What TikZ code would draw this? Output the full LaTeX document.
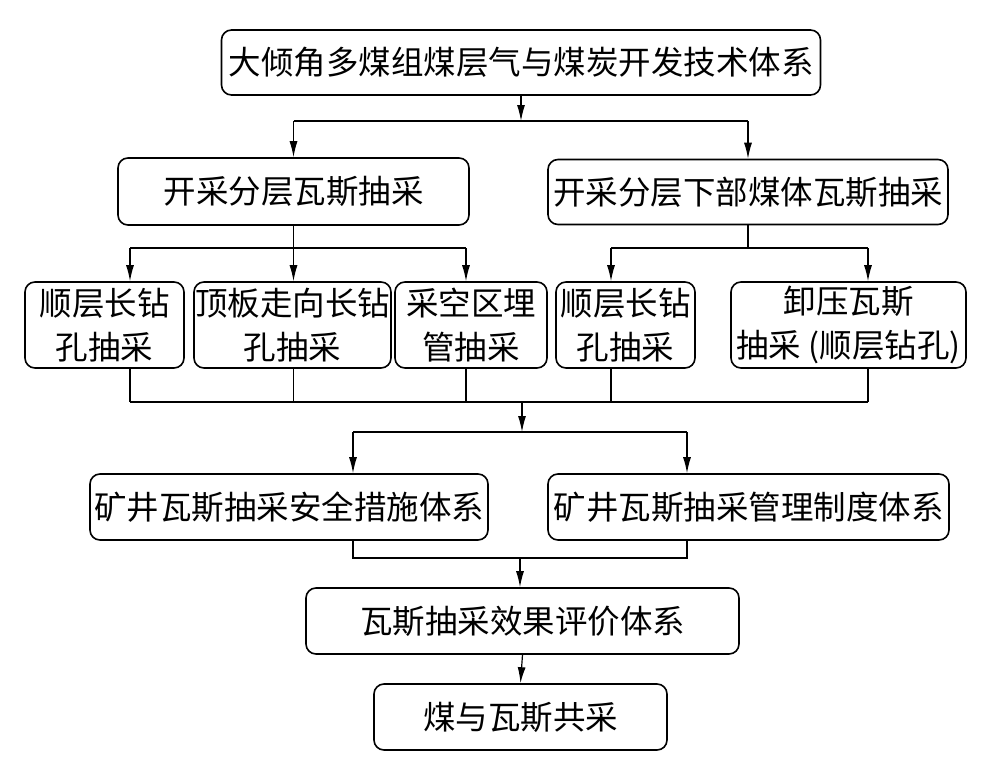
\documentclass[tikz,border=0pt]{standalone}
\usepackage{fontspec}
\setmainfont{Noto Sans CJK SC}
\usetikzlibrary{arrows.meta}

\begin{document}
\begin{tikzpicture}[x=1pt,y=-1pt,
  box/.style={draw,line width=1.6pt,rounded corners=10pt,inner sep=0pt,align=center,font=\fontsize{32.5pt}{44pt}\selectfont},
  arr/.style={-{Latex[length=16pt,width=8pt]},line width=1.2pt},
  ln/.style={line width=1.2pt}]

\useasboundingbox (0,0) rectangle (999,768);

\node [box,minimum width=599pt,minimum height=65pt] (sys) at (521,62.5) {大倾角多煤组煤层气与煤炭开发技术体系};

\node [box,minimum width=351pt,minimum height=67pt] (lay) at (293.5,191.5) {开采分层瓦斯抽采};
\node [box,minimum width=400pt,minimum height=65pt] (low) at (748,192) {开采分层下部煤体瓦斯抽采};

\node [box,minimum width=159pt,minimum height=86pt] (c1) at (104.5,325) {顺层长钻\\孔抽采};
\node [box,minimum width=197pt,minimum height=86pt] (c2) at (292.5,325) {顶板走向长钻\\孔抽采};
\node [box,minimum width=152pt,minimum height=86pt] (c3) at (471,325) {采空区埋\\管抽采};
\node [box,minimum width=139pt,minimum height=86pt] (c4) at (625.5,325) {顺层长钻\\孔抽采};
\node [box,minimum width=235pt,minimum height=86pt] (c5) at (848.5,325) {卸压瓦斯\\抽采 (顺层钻孔)};

\node [box,minimum width=398pt,minimum height=66pt] (safe) at (289,507) {矿井瓦斯抽采安全措施体系};
\node [box,minimum width=401pt,minimum height=66pt] (mgmt) at (748.5,507) {矿井瓦斯抽采管理制度体系};

\node [box,minimum width=433pt,minimum height=66pt] (eval) at (522.5,621) {瓦斯抽采效果评价体系};
\node [box,minimum width=293pt,minimum height=66pt] (coal) at (520.5,717) {煤与瓦斯共采};

\coordinate (sp) at (521,121);
\coordinate (j1) at (130,248);
\coordinate (j2) at (293.5,248);
\coordinate (j3) at (466,248);
\coordinate (j4) at (611,248);
\coordinate (j5) at (868,248);
\coordinate (mc) at (522,402);
\coordinate (k1) at (353,432);
\coordinate (k2) at (687,432);
\coordinate (n) at (520,558);

\draw [arr] (sys.south) -- (sp);
\draw [ln] (sp -| lay.north) -- (sp -| low.north);
\draw [arr] (sp -| lay.north) -- (lay.north);
\draw [arr] (sp -| low.north) -- (low.north);

\draw [ln] (lay.south) -- (j2);
\draw [ln] (low.south) -- (low.south |- j4);
\draw [ln] (j1) -- (j3);
\draw [ln] (j4) -- (j5);
\foreach \i in {1,...,5}{
  \draw [arr] (j\i) -- (j\i |- c\i.north);
  \draw [ln] (j\i |- c\i.south) -- (j\i |- mc);
}
\draw [ln] (j1 |- mc) -- (j5 |- mc);

\draw [arr] (mc) -- (mc |- k1);
\draw [ln] (k1) -- (k2);
\draw [arr] (k1) -- (k1 |- safe.north);
\draw [arr] (k2) -- (k2 |- mgmt.north);
\draw [ln] (k1 |- safe.south) -- (k1 |- n) -- (k2 |- n) -- (k2 |- mgmt.south);
\draw [arr] (n) -- (n |- eval.north);
\draw [arr] (eval.south) -- (coal.north);
\end{tikzpicture}
\end{document}
